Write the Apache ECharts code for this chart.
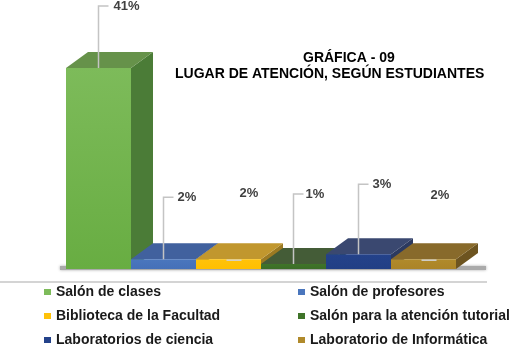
<!DOCTYPE html>
<html>
<head>
<meta charset="utf-8">
<script src="https://cdn.jsdelivr.net/npm/echarts@6/dist/echarts.min.js"></script>
<style>
    html, body { margin: 0; padding: 0; background: #fff; }
    #chart { width: 509px; height: 346px; }
</style>
</head>
<body>
<div id="chart"></div>
<script>
(function () {
    // datos de la gráfica
    var categories = ['Salón de clases', 'Salón de profesores', 'Biblioteca de la Facultad',
        'Salón para la atención tutorial', 'Laboratorios de ciencia', 'Laboratorio de Informática'];
    var values = [41, 2, 2, 1, 3, 2];
    var labels = ['41%', '2%', '2%', '1%', '3%', '2%'];

    // colores: frente arriba, frente abajo, cara superior, lateral
    var fronts = ['#7dbb5a', '#4a76bd', '#ffc20a', '#3f7429', '#24428a', '#b08a2b'];
    var frontsBottom = ['#68ad42', '#4570b8', '#ffbf00', '#3b6d27', '#213f85', '#ab8427'];
    var tops = ['#66924a', '#41619e', '#c1972e', '#445c37', '#3a4870', '#886a2b'];
    var sides = ['#4b7c37', '#34508a', '#9c7a22', '#37502b', '#2c3a60', '#6d5420'];

    // posicion de etiquetas (estilo tipo Excel)
    var labelLift = [62, 62, 66, 70, 70, 64];
    var labelDx = [15, 14, 11, 12, 14, 7];
    var leaderType = ['long', 'long', 'short', 'long', 'long', 'short'];

    var DX = 22, DY = 16;
    var font = "'Liberation Sans', Arial, sans-serif";

    var renderBox = function (params, api) {
        var idx = params.seriesIndex;
        var top = api.coord([api.value(0), api.value(1)]);
        var base = api.coord([api.value(0), 0]);
        var w = api.size([1, 0])[0];
        var L = top[0] - w / 2, R = top[0] + w / 2, T = top[1], B = base[1];
        var cx = top[0];
        var ly = T - labelLift[idx];
        var children = [
            {
                type: 'polygon',
                shape: {points: [[R, T], [R + DX, T - DY], [R + DX, B - DY], [R, B]]},
                style: {fill: sides[idx]}
            },
            {
                type: 'polygon',
                shape: {points: [[L, T], [L + DX, T - DY], [R + DX, T - DY], [R, T]]},
                style: {fill: tops[idx]}
            },
            {
                type: 'rect',
                shape: {x: L, y: T, width: w, height: B - T},
                style: {
                    fill: new echarts.graphic.LinearGradient(0, 0, 0, 1, [
                        {offset: 0, color: fronts[idx]},
                        {offset: 1, color: frontsBottom[idx]}
                    ])
                }
            }
        ];
        if (leaderType[idx] == 'long') {
            children.push({
                type: 'polyline',
                shape: {points: [[cx, T], [cx, ly], [cx + 10, ly]]},
                style: {stroke: '#c4c4c4', lineWidth: 1.5, fill: null}
            });
        } else {
            children.push({
                type: 'line',
                shape: {x1: cx - 2, y1: T + 1, x2: cx + 13, y2: T + 1},
                style: {stroke: '#d0d0d0', lineWidth: 1.5}
            });
        }
        children.push({
            type: 'text',
            x: cx + labelDx[idx],
            y: ly,
            style: {
                text: labels[idx],
                fill: '#404040',
                font: 'bold 13px ' + font,
                verticalAlign: 'middle',
                align: 'left'
            }
        });
        return {type: 'group', children: children};
    };

    var series = [];
    for (var i = 0; i < categories.length; i++) {
        series.push({
            type: 'custom',
            name: categories[i],
            renderItem: renderBox,
            itemStyle: {color: fronts[i]},
            data: [[i, values[i]]],
            z: 2 + i,
            silent: true
        });
    }

    var legendText = {fontFamily: font, fontWeight: 'bold', fontSize: 14, color: '#1a1a1a', lineHeight: 14};
    var titleText = {fontFamily: font, fontWeight: 'bold', fontSize: 14, color: '#000'};

    var chart = echarts.init(document.getElementById('chart'));
    chart.setOption({
        animation: false,
        title: [
            {text: 'GRÁFICA - 09', left: 303, top: 51, padding: 0, textStyle: titleText},
            {text: 'LUGAR DE ATENCIÓN, SEGÚN ESTUDIANTES', left: 175, top: 67, padding: 0, textStyle: titleText}
        ],
        grid: {left: 66, right: 53, top: 68, bottom: 77},
        xAxis: {type: 'category', data: categories, show: false},
        yAxis: {type: 'value', min: 0, max: 41, show: false},
        legend: [
            {
                orient: 'vertical', left: 44, top: 285, height: 62, padding: 0, itemGap: 10,
                itemWidth: 7, itemHeight: 6, icon: 'rect',
                data: [categories[0], categories[2], categories[4]],
                textStyle: legendText
            },
            {
                orient: 'vertical', left: 298, top: 285, height: 62, padding: 0, itemGap: 10,
                itemWidth: 7, itemHeight: 6, icon: 'rect',
                data: [categories[1], categories[3], categories[5]],
                textStyle: legendText
            }
        ],
        graphic: [
            {
                type: 'rect', z: 1,
                shape: {x: 60, y: 266, width: 426, height: 4},
                style: {fill: '#aaaaaa', shadowBlur: 3, shadowColor: 'rgba(0,0,0,0.35)'}
            },
            {
                type: 'line', z: 1,
                shape: {x1: 0, y1: 282, x2: 487, y2: 282},
                style: {stroke: '#c6c6c6', lineWidth: 1.5}
            }
        ],
        series: series
    });
})();
</script>
</body>
</html>
